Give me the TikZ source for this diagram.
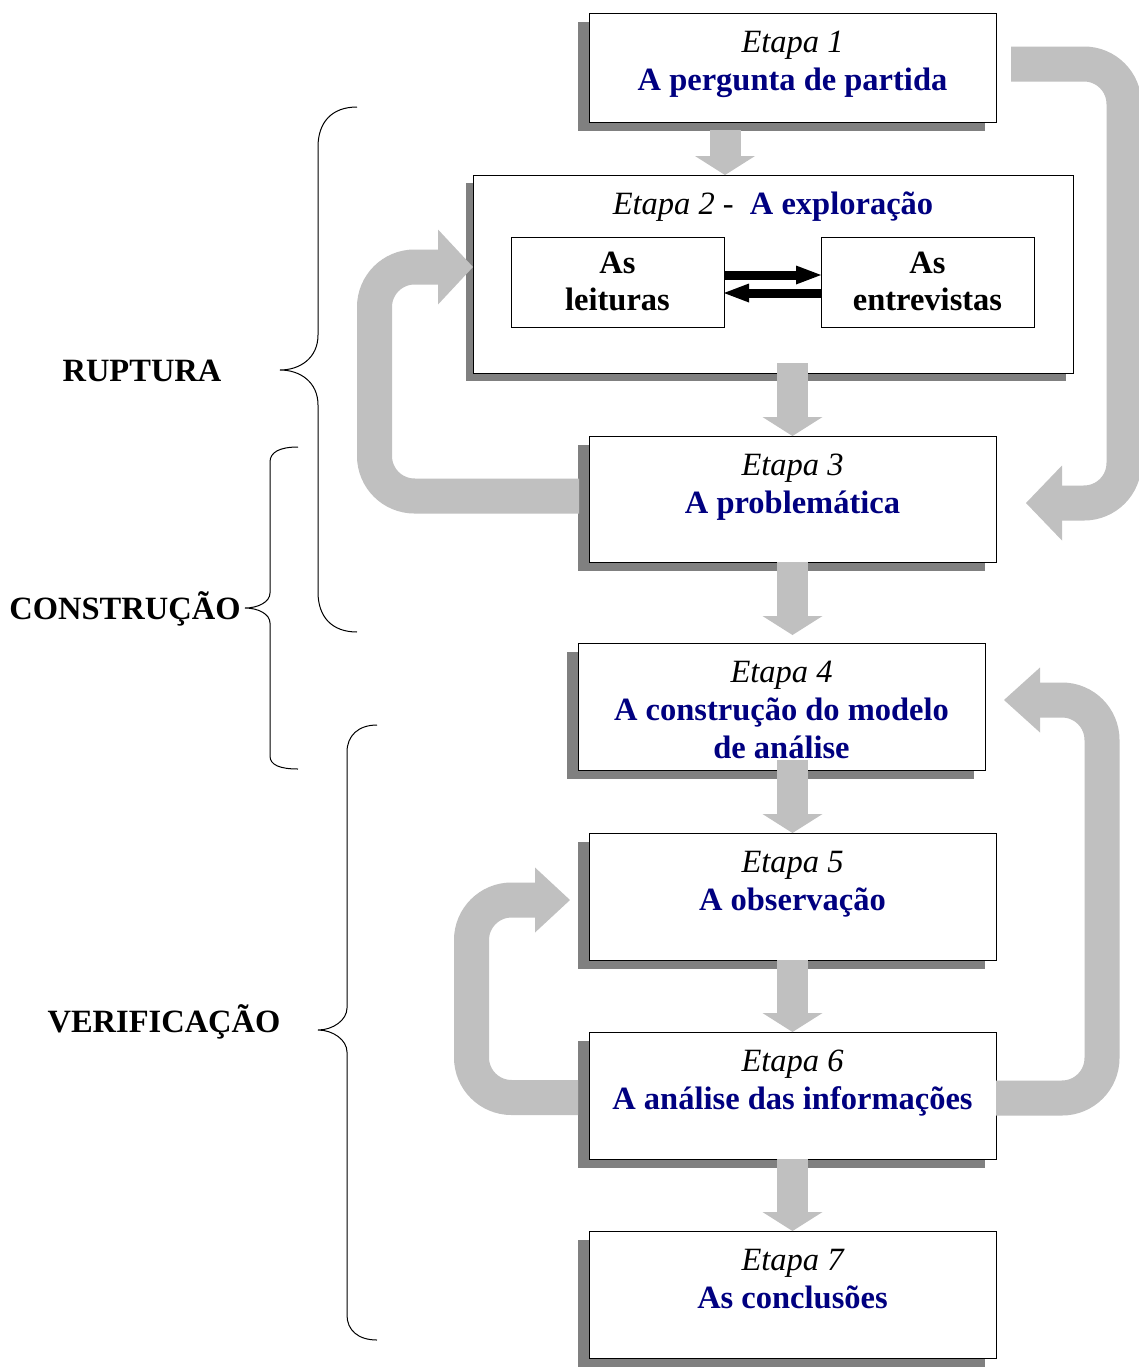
\documentclass[tikz,border=0pt]{standalone}
\usepackage{fontspec}
\setmainfont{Liberation Serif}
\usetikzlibrary{arrows.meta,shadows,calc}
\definecolor{navyblue}{HTML}{000080}
\definecolor{arrgray}{HTML}{C0C0C0}
\definecolor{shgray}{HTML}{808080}
\tikzset{
  basebox/.style={draw=black, line width=1pt, fill=white, inner sep=0pt, outer sep=0pt},
  stagebox/.style={basebox, minimum width=407pt, minimum height=127pt,
    drop shadow={shadow xshift=-11pt, shadow yshift=-9pt, fill=shgray, opacity=1}},
  innerbox/.style={basebox, minimum width=213pt, minimum height=90pt},
  etl/.style={font=\fontsize{32.5}{38}\selectfont\itshape, anchor=base, inner sep=0pt},
  ttl/.style={font=\fontsize{32.5}{38}\selectfont\bfseries, text=navyblue, anchor=base, inner sep=0pt},
  blk/.style={font=\fontsize{32.5}{38}\selectfont\bfseries, text=black, anchor=base, inner sep=0pt},
  garrow/.style={draw=arrgray, line width=31pt, -{Triangle[width=60pt,length=19pt,line width=0pt]}},
  looparrow/.style={draw=arrgray, line width=35pt, rounded corners=40pt},
  blackarrow/.style={draw=black, line width=9pt, -{Triangle[width=19pt,length=25pt,line width=0pt]}},
  bracestyle/.style={draw=black, line width=1pt}
}
\begin{document}
\begin{tikzpicture}[x=1pt, y=-1pt]
\useasboundingbox (0,0) rectangle (1139,1371);
\fill[white] (0,0) rectangle (1139,1371);

\coordinate (lA) at (374.5,496);
\coordinate (lB) at (374.5,267);
\coordinate (mA) at (471.5,1097.5);
\coordinate (mB) at (471.5,900);
\coordinate (rA) at (1102,1098);
\coordinate (rB) at (1102,700);
\coordinate (sA) at (1124,64);
\coordinate (sB) at (1124,503);

% boxes
\node[stagebox, minimum height=109pt] (b1) at (792.5,67.5) {};
\node[basebox, minimum width=600pt, minimum height=198pt,
  drop shadow={shadow xshift=-7pt, shadow yshift=-8pt, fill=shgray, opacity=1}] (b2) at (773,274) {};
\node[innerbox] (bl) at (617.5,282) {};
\node[innerbox] (be) at (927.5,282) {};
\node[stagebox, minimum height=126pt] (b3) at (792.5,499) {};
\node[stagebox] (b4) at (781.5,706.5) {};
\node[stagebox] (b5) at (792.5,896.5) {};
\node[stagebox] (b6) at (792.5,1095.5) {};
\node[stagebox] (b7) at (792.5,1294.5) {};

% loop arrows
\draw[looparrow, -{Triangle[width=75pt,length=35pt,line width=0pt]}]
  ($(b3.west)+(-10,-3)$) -- (lA) -- (lB) -- ($(b2.west)+(0,-7)$);
\draw[looparrow, -{Triangle[width=65pt,length=35pt,line width=0pt]}]
  ($(b6.west)+(-11,2)$) -- (mA) -- (mB) -- ($(b5.west)+(-19,3.5)$);
\draw[looparrow, -{Triangle[width=65pt,length=36pt,line width=0pt]}]
  ($(b6.east)+(0,2.5)$) -- (rA) -- (rB) -- ($(b4.east)+(19,-6.5)$);
\draw[looparrow, -{Triangle[width=75pt,length=36pt,line width=0pt]}]
  ($(b1.east)+(15,-3.5)$) -- (sA) -- (sB) -- ($(b3.east)+(30,4)$);

% texts
\node[etl] (t1a) at ($(b1.north)+(0,39)$) {Etapa 1};
\node[ttl] (t1b) at ($(b1.north)+(0,77)$) {A pergunta de partida};
\node[anchor=base, inner sep=0pt, font=\fontsize{32.5}{38}\selectfont] (t2) at ($(b2.north)+(0,39)$)
  {\textit{Etapa 2 -}\ \ {\bfseries\color{navyblue}A exploração}};
\node[blk] (tla) at ($(bl.north)+(0,36)$) {As};
\node[blk] (tlb) at ($(bl.north)+(0,73)$) {leituras};
\node[blk] (tea) at ($(be.north)+(0,36)$) {As};
\node[blk] (teb) at ($(be.north)+(0,73)$) {entrevistas};
\node[etl] (t3a) at ($(b3.north)+(0,39)$) {Etapa 3};
\node[ttl] (t3b) at ($(b3.north)+(0,77)$) {A problemática};
\node[etl] (t4a) at ($(b4.north)+(0,39)$) {Etapa 4};
\node[ttl] (t4b) at ($(b4.north)+(0,77)$) {A construção do modelo};
\node[ttl] (t4c) at ($(b4.north)+(0,115)$) {de análise};
\node[etl] (t5a) at ($(b5.north)+(0,39)$) {Etapa 5};
\node[ttl] (t5b) at ($(b5.north)+(0,77)$) {A observação};
\node[etl] (t6a) at ($(b6.north)+(0,39)$) {Etapa 6};
\node[ttl] (t6b) at ($(b6.north)+(0,77)$) {A análise das informações};
\node[etl] (t7a) at ($(b7.north)+(0,39)$) {Etapa 7};
\node[ttl] (t7b) at ($(b7.north)+(0,77)$) {As conclusões};

% black arrows between inner boxes
\draw[blackarrow] ($(bl.east)+(0,-7)$) -- ($(be.west)+(0,-7)$);
\draw[blackarrow] ($(be.west)+(0,11)$) -- ($(bl.east)+(0,11)$);

% straight gray arrows
\draw[garrow] ($(b1.south)+(-67.5,8)$) -- ($(b2.north)+(-48,0)$);
\draw[garrow] ($(b2.south)+(19.5,-10)$) -- (b3.north);
\draw[garrow] (b3.south) -- ($(b4.north)+(11,-8)$);
\draw[garrow] ($(b4.south)+(11,-10)$) -- (b5.north);
\draw[garrow] (b5.south) -- (b6.north);
\draw[garrow] (b6.south) -- (b7.north);

% braces
\draw[bracestyle] (357,107) .. controls (332,107) and (318,122) .. (318,147)
  -- (318,335) .. controls (318,358) and (300,370) .. (280,370)
  .. controls (300,370) and (318,382) .. (318,405)
  -- (318,592) .. controls (318,617) and (332,632) .. (357,632);
\draw[bracestyle] (298,447) .. controls (280,447) and (270,452) .. (270,462)
  -- (270,593) .. controls (270,602) and (258,608) .. (245,608)
  .. controls (258,608) and (270,614) .. (270,623)
  -- (270,756) .. controls (270,765) and (280,769) .. (298,769);
\draw[bracestyle] (377,725) .. controls (358,725) and (347,736) .. (347,752)
  -- (347,1008) .. controls (347,1020) and (333,1030) .. (318,1030)
  .. controls (333,1030) and (347,1040) .. (347,1052)
  -- (347,1315) .. controls (347,1330) and (358,1340) .. (377,1340);

% labels
\node[blk] (lr) at (142,381) {RUPTURA};
\node[blk] (lc) at (125,619) {CONSTRUÇÃO};
\node[blk] (lv) at (164,1032) {VERIFICAÇÃO};
\end{tikzpicture}
\end{document}
